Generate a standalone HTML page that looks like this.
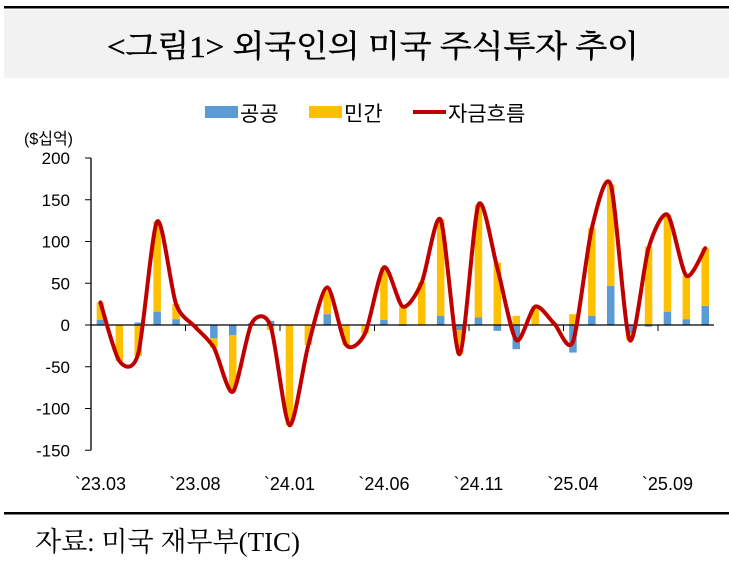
<!DOCTYPE html>
<html><head><meta charset="utf-8">
<style>
body{margin:0;width:729px;height:564px;background:#fff;overflow:hidden}
svg text{font-family:"Liberation Sans","Noto Sans CJK KR",sans-serif}
</style></head><body>
<svg id="s" width="729" height="564" xmlns="http://www.w3.org/2000/svg">
<rect x="4" y="6" width="725" height="2.5" fill="#000"/>
<rect x="4" y="10" width="725" height="68" fill="#f2f2f2"/>
<text x="373" y="57" text-anchor="middle" font-size="31" style="font-family:'Liberation Serif','Noto Serif CJK SC','Noto Sans CJK KR',serif;stroke:#000;stroke-width:0.5" textLength="532" lengthAdjust="spacingAndGlyphs">&lt;그림1&gt; 외국인의 미국 주식투자 추이</text>
<rect x="205" y="106" width="33" height="12" fill="#5b9bd5"/>
<text x="240" y="121" font-size="21">공공</text>
<rect x="309" y="106" width="33" height="12" fill="#ffc000"/>
<text x="344" y="121" font-size="21">민간</text>
<rect x="413" y="110" width="33" height="4" fill="#c00000"/>
<text x="448" y="121" font-size="21">자금흐름</text>
<text x="24" y="144" font-size="16">($십억)</text>
<g id="g"></g>
<rect x="4" y="512" width="725" height="2.5" fill="#000"/>
<text x="35" y="551" font-size="27" style="font-family:'Liberation Serif','Noto Serif CJK SC',serif">자료: 미국 재무부(TIC)</text>
</svg>
<script>
var pub=[6,0,3,16,7,0,-16,-12,2,5,0,0,13,0,0,6,-1,0,11,-6,9,-7,-29,0,0,-33,11,47,-10,-2,16,7,23];
var tot=[27,-43,-34,124,25,-2,-27,-80,2,-1,-120,-24,45,-24,-10,69,22,51,126,-35,144,68,-18,22,2,-20,116,168,-18,92,132,59,92];
var g=document.getElementById('g'),h='';
var X0=91,W=18.9,Z=325,S=0.835;
function y(v){return Z-v*S}
function cx(k){return X0+W*(k+0.5)}
for(var v=-150;v<=200;v+=50){h+='<line x1="85" x2="91" y1="'+y(v)+'" y2="'+y(v)+'" stroke="#000"/>';
h+='<text x="70" y="'+(y(v)+6)+'" font-size="17" text-anchor="end">'+v+'</text>';}
h+='<line x1="91" x2="91" y1="'+y(200)+'" y2="'+y(-150)+'" stroke="#000" stroke-width="1.3"/>';
for(var k=0;k<33;k++){
 var p=pub[k],q=tot[k]-p,bw=7.5,x=cx(k)-bw/2;
 var pos=0,neg=0;
 [[p,'#5b9bd5'],[q,'#ffc000']].forEach(function(a){var v=a[0];if(v>=0){h+='<rect x="'+x+'" y="'+y(pos+v)+'" width="'+bw+'" height="'+(v*S)+'" fill="'+a[1]+'"/>';pos+=v;}else{h+='<rect x="'+x+'" y="'+y(neg)+'" width="'+bw+'" height="'+(-v*S)+'" fill="'+a[1]+'"/>';neg+=v;}});
}
h+='<line x1="91" x2="714" y1="'+Z+'" y2="'+Z+'" stroke="#000" stroke-width="1.3"/>';
var labs=["`23.03","`23.08","`24.01","`24.06","`24.11","`25.04","`25.09"];
for(var i=0;i<7;i++){h+='<text x="'+cx(i*5)+'" y="490" font-size="18" text-anchor="middle">'+labs[i]+'</text>';
 if(i>0){var tx=X0+W*i*5;h+='<line x1="'+tx+'" x2="'+tx+'" y1="'+Z+'" y2="'+(Z+6)+'" stroke="#000"/>';}}
var P=tot.map(function(v,k){return[cx(k),y(v)]});
var d='M'+P[0][0]+','+P[0][1],f=7.5;
for(var i=0;i<P.length-1;i++){var p0=P[i-1]||P[i],p1=P[i],p2=P[i+1],p3=P[i+2]||p2;
 d+=' C'+(p1[0]+(p2[0]-p0[0])/f)+','+(p1[1]+(p2[1]-p0[1])/f)+' '+(p2[0]-(p3[0]-p1[0])/f)+','+(p2[1]-(p3[1]-p1[1])/f)+' '+p2[0]+','+p2[1];}
h+='<path d="'+d+'" fill="none" stroke="#c00000" stroke-width="4" stroke-linejoin="round" stroke-linecap="round"/>';
g.innerHTML=h;
</script>
</body></html>
